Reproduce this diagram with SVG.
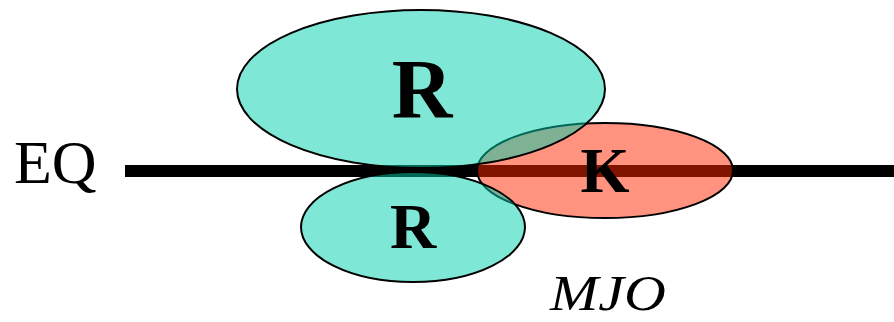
<svg xmlns="http://www.w3.org/2000/svg" width="894" height="322" viewBox="0 0 894 322">
<style>
text{font-family:'Liberation Serif','Times New Roman',serif;fill:#000}
.b{font-weight:bold;text-anchor:middle}
.teal{fill:#00D0AC;fill-opacity:0.5;stroke:#000;stroke-width:2}
.red{fill:#FF2800;fill-opacity:0.5;stroke:#000;stroke-width:2}
</style>
<rect width="894" height="322" fill="#fff"/>
<g id="connectors">
<line x1="125" y1="171" x2="894" y2="171" stroke="#000" stroke-width="12"/>
</g>
<g id="eq"><text x="14" y="183" font-size="62">EQ</text></g>
<g id="K">
<ellipse class="red" cx="605" cy="170.5" rx="128" ry="47.5"/>
<text class="b" x="605" y="192" font-size="63">K</text>
</g>
<g id="R1">
<ellipse class="teal" cx="421" cy="89" rx="184" ry="79"/>
<text class="b" x="422" y="118" font-size="84">R</text>
</g>
<g id="R2">
<ellipse class="teal" cx="413" cy="227" rx="112" ry="55"/>
<text class="b" x="413" y="248" font-size="64">R</text>
</g>
<g id="mjo"><text x="550" y="310" font-size="50" font-style="italic" textLength="116" lengthAdjust="spacingAndGlyphs">MJO</text></g>
</svg>
